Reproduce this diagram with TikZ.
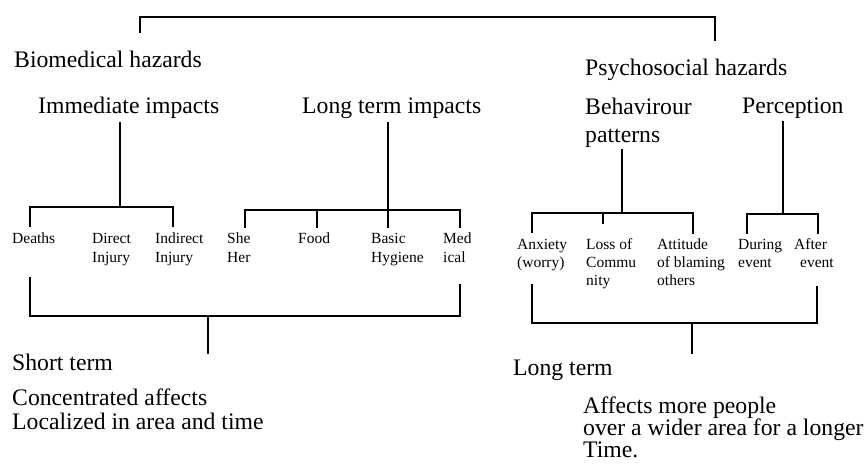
\documentclass[tikz,border=0pt]{standalone}
\usepackage{fontspec}
\setmainfont{Liberation Serif}
\begin{document}
\begin{tikzpicture}[x=1pt,y=-1pt,
  big/.style={font=\fontsize{23.7}{24}\selectfont, inner sep=0pt, anchor=base west, align=left},
  small/.style={font=\fontsize{15.5}{19}\selectfont, inner sep=0pt, anchor=base west, align=left},
  smallr/.style={font=\fontsize{15.5}{18}\selectfont, inner sep=0pt, anchor=base west, align=left},
  conn/.style={line width=1.3pt, line cap=rect}]
\useasboundingbox (0,0) rectangle (867,474);

% ---- text nodes (a multi-line node is placed by the baseline of its last line)
\node[big] (bio) at (14,67) {Biomedical hazards};
\node[big] (psy) at (585,75) {Psychosocial hazards};
\node[big] (imm) at (38,113) {Immediate impacts};
\node[big] (lti) at (302,113) {Long term impacts};
\node[big, font=\fontsize{23.7}{28}\selectfont] (beh) at (585,142) {Behavirour\\patterns};
\node[big] (per) at (742,113) {Perception};

\node[small] (dea) at (12,243) {Deaths};
\node[small] (dir) at (92,262) {Direct\\Injury};
\node[small] (ind) at (155,262) {Indirect\\Injury};
\node[small] (she) at (227,262) {She\\Her};
\node[small] (foo) at (298,243) {Food};
\node[small] (bas) at (371,262) {Basic\\Hygiene};
\node[small] (med) at (443,262) {Med\\ical};
\node[smallr] (anx) at (517,267) {Anxiety\\(worry)};
\node[smallr] (los) at (586,285) {Loss of\\Commu\\nity};
\node[smallr] (att) at (657,285) {Attitude\\of blaming\\others};
\node[smallr] (dur) at (738,267) {During\\event};
\node[smallr] (aft) at (794,267) {After\\\hspace*{6pt}event};

\node[big] (sht) at (12,370) {Short term};
\node[big] (con) at (12,429) {Concentrated affects\\Localized in area and time};
\node[big] (lgt) at (513,375) {Long term};
\node[big, font=\fontsize{23.7}{22}\selectfont] (aff) at (583,457) {Affects more people\\over a wider area for a longer\\Time.};

% ---- junction coordinates
\coordinate (t1) at (140,32);
\coordinate (t2) at (715,40);
\coordinate (th) at (140,17);

\coordinate (imm-s) at (120,123);
\coordinate (imm-j) at (120,207);
\coordinate (dea-t) at (30,226);
\coordinate (ind-t) at (173,226);

\coordinate (lti-s) at (388,123);
\coordinate (lti-j) at (388,210);
\coordinate (she-t) at (245,227);
\coordinate (foo-t) at (317,227);
\coordinate (bas-t) at (388,227);
\coordinate (med-t) at (460,227);

\coordinate (beh-s) at (622,150);
\coordinate (beh-j) at (622,213);
\coordinate (anx-t) at (532,232);
\coordinate (los-t) at (603,223);
\coordinate (att-t) at (693,233);

\coordinate (per-s) at (783,122);
\coordinate (per-j) at (783,214);
\coordinate (dur-t) at (747,233);
\coordinate (aft-t) at (818,233);

\coordinate (dea-b) at (30,278);
\coordinate (med-b) at (460,285);
\coordinate (sht-j) at (208,316);
\coordinate (sht-t) at (208,353);

\coordinate (anx-b) at (532,285);
\coordinate (aft-b) at (817,287);
\coordinate (lgt-j) at (692,323);
\coordinate (lgt-t) at (692,353);

% ---- connectors
\draw[conn] (t1) |- (th) -| (t2);

\draw[conn] (imm-s) -- (imm-j);
\draw[conn] (dea-t) |- (imm-j) -| (ind-t);

\draw[conn] (lti-s) -- (bas-t);
\draw[conn] (she-t) |- (lti-j) -| (med-t);
\draw[conn] (foo-t) -- (foo-t |- lti-j);

\draw[conn] (beh-s) -- (beh-j);
\draw[conn] (anx-t) |- (beh-j) -| (att-t);
\draw[conn] (los-t) -- (los-t |- beh-j);

\draw[conn] (per-s) -- (per-j);
\draw[conn] (dur-t) |- (per-j) -| (aft-t);

\draw[conn] (dea-b) |- (sht-j) -| (med-b);
\draw[conn] (sht-j) -- (sht-t);

\draw[conn] (anx-b) |- (lgt-j) -| (aft-b);
\draw[conn] (lgt-j) -- (lgt-t);
\end{tikzpicture}
\end{document}
